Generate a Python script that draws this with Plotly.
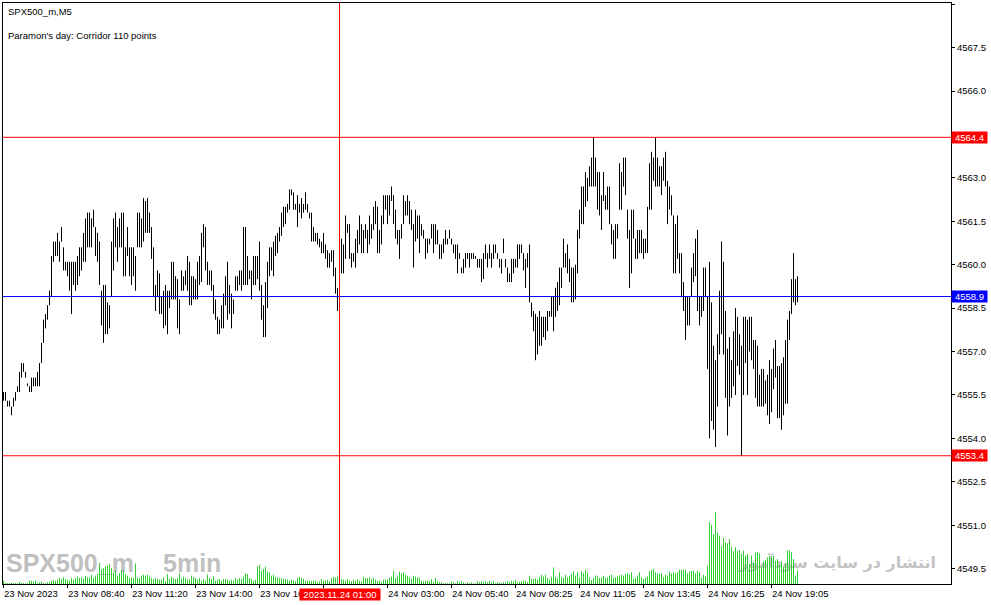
import plotly.graph_objects as go

# ---------------- data ----------------
highs = [
4555.6,4555.6,4555.3,4555.3,4555.1,4555.4,4555.6,4555.8,4556.3,4556.6,
4556.6,4556.3,4555.9,4555.8,4556.1,4556.1,4556.1,4556.3,4556.6,4557.3,
4558.1,4558.3,4558.6,4559.1,4560.3,4560.8,4560.8,4561.1,4560.8,4561.3,
4560.6,4560.1,4560.1,4560.1,4560.1,4560.1,4560.1,4560.3,4560.6,4560.6,
4561.1,4561.6,4561.8,4561.8,4561.6,4561.9,4561.3,4561.1,4560.8,4559.1,
4559.3,4559.3,4558.7,4558.6,4560.8,4561.6,4561.8,4561.3,4561.6,4561.8,
4561.8,4560.6,4561.3,4560.6,4560.6,4560.6,4560.3,4561.8,4561.8,4561.6,
4562.3,4562.2,4562.3,4561.8,4561.3,4560.6,4559.3,4559.8,4559.7,4558.9,
4559.1,4559.3,4559.1,4559.1,4560.1,4560.1,4559.6,4559.5,4558.8,4559.8,
4559.6,4559.8,4560.3,4560.1,4559.6,4559.6,4559.5,4560.1,4560.3,4561.1,
4561.4,4561.3,4560.1,4559.8,4559.8,4559.3,4558.8,4558.2,4558.1,4558.6,
4559.0,4559.6,4560.1,4559.3,4559.0,4558.8,4559.6,4559.6,4559.8,4559.8,
4561.3,4561.3,4560.3,4559.8,4559.8,4560.3,4560.3,4560.3,4560.8,4559.3,
4558.6,4559.4,4560.1,4560.6,4560.6,4560.8,4561.0,4561.1,4561.3,4561.8,
4562.0,4562.0,4562.1,4562.6,4562.6,4562.5,4562.1,4562.4,4562.1,4562.3,
4562.1,4562.5,4562.1,4561.8,4561.8,4561.3,4561.1,4561.1,4560.9,4560.8,
4561.1,4560.7,4560.5,4560.4,4560.5,4560.5,4559.9,4559.2,4561.4,4560.9,
4560.7,4561.7,4561.4,4561.4,4560.4,4560.4,4560.9,4561.2,4561.7,4561.4,
4561.2,4561.4,4561.2,4561.7,4561.4,4562.0,4562.2,4562.0,4561.2,4561.7,
4562.4,4562.4,4562.4,4562.4,4562.7,4562.4,4561.9,4561.2,4561.2,4561.4,
4562.4,4562.2,4562.4,4562.2,4561.9,4561.4,4561.9,4561.7,4561.7,4561.4,
4561.2,4560.9,4560.9,4560.9,4561.4,4561.4,4561.4,4561.2,4560.7,4560.7,
4560.9,4561.2,4560.9,4561.2,4560.9,4560.7,4560.7,4560.7,4560.4,4559.9,
4560.2,4560.4,4560.4,4560.4,4560.4,4560.4,4560.3,4560.2,4560.2,4560.2,
4560.4,4560.7,4560.4,4560.7,4560.4,4560.7,4560.7,4560.4,4560.2,4560.2,
4560.9,4560.2,4559.9,4559.7,4560.2,4560.2,4560.2,4560.7,4560.7,4560.7,
4560.4,4560.2,4560.4,4560.7,4558.7,4558.4,4558.3,4558.2,4558.4,4558.2,
4558.2,4558.2,4558.4,4558.4,4558.9,4558.9,4559.2,4559.4,4559.9,4559.9,
4560.9,4560.4,4560.7,4560.2,4559.9,4559.9,4560.0,4561.2,4561.9,4562.7,
4562.7,4563.2,4563.0,4563.4,4563.7,4564.4,4563.7,4563.2,4563.2,4562.4,
4563.2,4562.4,4562.7,4562.7,4561.4,4561.2,4561.4,4561.4,4563.5,4563.2,
4563.7,4563.7,4561.9,4561.2,4561.9,4561.9,4560.9,4561.2,4561.2,4561.2,
4560.9,4560.9,4562.0,4563.5,4563.9,4563.7,4564.4,4563.7,4563.4,4563.4,
4563.7,4563.9,4562.9,4562.7,4562.4,4561.7,4561.4,4561.7,4560.4,4560.4,
4559.4,4558.9,4558.9,4558.9,4559.9,4560.4,4560.9,4561.2,4558.9,4558.9,
4559.9,4559.9,4558.9,4560.1,4558.7,4557.2,4556.7,4557.6,4559.1,4560.8,
4560.1,4558.4,4557.1,4557.5,4556.7,4557.7,4558.5,4558.2,4557.6,4557.2,
4558.2,4558.2,4558.1,4558.2,4558.2,4557.4,4557.4,4557.2,4556.2,4556.4,
4556.4,4556.0,4556.2,4556.7,4556.4,4557.1,4557.4,4556.5,4556.5,4556.6,
4556.8,4557.4,4558.1,4558.4,4559.5,4560.4,4559.5,4559.6,
]

lows = [
4555.3,4555.3,4555.1,4555.1,4554.8,4555.1,4555.3,4555.6,4555.6,4556.1,
4556.3,4556.1,4555.8,4555.6,4555.6,4555.8,4555.8,4555.8,4555.8,4556.6,
4557.3,4557.8,4558.1,4558.6,4558.9,4560.1,4560.3,4560.3,4560.1,4560.8,
4559.8,4559.8,4559.6,4559.1,4558.3,4559.3,4559.1,4559.3,4559.6,4559.8,
4560.1,4560.1,4560.6,4560.6,4560.6,4561.3,4560.3,4560.1,4559.3,4557.9,
4557.3,4557.6,4557.6,4557.8,4558.9,4559.8,4560.6,4560.1,4560.6,4560.6,
4559.6,4559.6,4560.3,4559.6,4559.3,4559.6,4559.1,4560.6,4560.6,4560.6,
4560.8,4561.1,4561.1,4561.1,4560.2,4558.9,4558.4,4558.9,4558.3,4558.3,
4557.8,4557.9,4557.6,4558.5,4558.8,4558.8,4558.8,4557.8,4557.6,4559.1,
4559.1,4559.3,4559.1,4558.6,4558.6,4558.8,4558.8,4558.8,4559.3,4559.4,
4560.6,4559.8,4559.3,4559.3,4559.1,4558.3,4558.1,4557.6,4557.6,4557.8,
4557.8,4558.6,4558.1,4558.3,4557.8,4558.3,4559.1,4559.1,4559.3,4559.1,
4559.3,4559.3,4559.3,4559.5,4558.8,4559.3,4559.3,4559.5,4559.1,4558.1,
4557.5,4557.5,4558.5,4559.6,4559.8,4559.6,4560.3,4560.4,4560.8,4561.0,
4561.3,4561.4,4561.8,4561.9,4562.4,4561.9,4561.9,4561.3,4561.8,4561.6,
4561.8,4561.9,4561.8,4561.6,4560.8,4560.8,4560.8,4560.7,4560.6,4560.4,
4560.4,4560.2,4559.9,4559.9,4560.1,4559.6,4559.0,4558.4,4559.7,4559.7,
4559.7,4560.2,4561.1,4560.2,4559.9,4560.1,4559.9,4560.4,4560.7,4560.4,
4560.4,4560.9,4560.4,4560.7,4560.9,4561.2,4561.4,4560.4,4560.4,4560.7,
4561.4,4561.9,4561.4,4561.7,4562.2,4561.4,4560.9,4560.7,4560.2,4560.9,
4561.4,4561.7,4561.7,4561.4,4561.2,4559.9,4560.8,4560.9,4560.4,4561.0,
4560.9,4560.2,4560.4,4560.7,4560.9,4560.4,4560.7,4560.7,4560.2,4560.2,
4560.4,4560.7,4560.7,4560.9,4560.7,4560.4,4560.2,4559.7,4560.2,4559.7,
4559.7,4559.9,4560.2,4559.9,4560.2,4560.2,4560.2,4559.9,4559.9,4559.4,
4559.5,4560.2,4559.9,4560.2,4559.9,4560.2,4560.4,4560.2,4559.9,4559.7,
4560.4,4559.9,4559.4,4559.4,4559.4,4559.7,4559.9,4559.9,4560.2,4560.4,
4559.8,4559.2,4559.9,4558.7,4558.2,4557.7,4556.7,4556.9,4557.2,4557.2,
4557.5,4557.4,4557.7,4558.2,4558.2,4557.7,4558.2,4558.4,4558.6,4559.2,
4559.9,4559.9,4559.7,4559.4,4558.7,4558.7,4558.8,4559.7,4560.9,4561.4,
4561.4,4562.0,4562.2,4562.7,4562.7,4562.7,4562.7,4561.9,4561.7,4561.2,
4562.2,4561.9,4561.9,4561.4,4560.7,4560.2,4560.2,4560.9,4561.9,4561.9,
4562.7,4562.4,4560.9,4559.2,4559.7,4560.9,4560.2,4560.2,4560.4,4560.4,
4560.2,4560.4,4560.4,4561.9,4561.9,4562.9,4562.7,4562.7,4562.7,4562.4,
4562.9,4562.7,4561.4,4561.9,4561.7,4559.7,4559.7,4560.2,4559.7,4558.9,
4558.4,4557.4,4557.9,4557.9,4558.9,4559.4,4559.6,4558.4,4557.9,4558.2,
4558.4,4558.9,4556.4,4554.0,4554.6,4554.3,4553.7,4555.1,4556.9,4557.6,
4556.9,4555.4,4554.1,4555.1,4555.4,4555.8,4555.5,4556.5,4556.2,4553.4,
4555.5,4556.6,4555.5,4557.0,4556.7,4556.4,4555.4,4555.1,4555.1,4555.1,
4555.1,4555.2,4554.8,4554.5,4554.9,4555.7,4556.1,4554.7,4554.7,4554.3,
4554.8,4555.2,4555.2,4557.4,4558.3,4558.7,4558.6,4558.7,
]

volumes = [
33,10,10,10,10,7,10,7,23,10,
10,7,10,33,33,27,33,10,17,27,
10,7,17,17,33,43,33,43,60,50,
67,50,43,33,60,43,60,77,60,67,
50,83,67,67,93,60,83,100,210,150,
160,177,183,200,157,117,133,83,110,143,
133,100,83,60,67,60,207,60,60,83,
93,83,93,73,60,50,60,50,43,43,
67,27,100,50,73,60,50,60,107,50,
73,60,43,43,83,67,60,43,60,33,
50,33,93,60,50,77,33,43,50,33,
50,50,43,33,43,33,60,43,60,50,
73,107,100,60,50,33,43,177,193,133,
150,173,127,117,83,93,73,67,60,60,
50,50,43,33,43,33,27,60,73,60,
50,33,33,33,33,33,33,17,27,50,
33,33,40,27,60,73,67,77,33,50,
43,33,50,33,27,43,33,50,33,27,
73,60,60,67,50,60,43,33,33,17,
43,43,43,60,73,133,60,83,123,107,
117,93,83,67,50,83,73,67,60,33,
27,33,33,27,50,17,60,27,17,17,
7,7,7,7,27,17,7,33,17,27,
17,7,17,7,17,7,7,27,17,27,
17,27,17,33,17,27,7,17,17,7,
17,17,27,17,33,27,40,17,23,27,
33,33,17,83,50,50,57,43,67,93,
77,93,60,43,73,167,73,60,117,67,
60,93,67,83,100,127,83,117,67,127,
107,143,117,67,40,60,83,83,60,67,
83,60,67,83,93,60,67,73,83,93,
83,100,107,93,117,50,60,83,117,67,
50,67,77,127,140,150,117,107,100,107,
67,93,83,127,107,117,107,117,143,143,
143,143,107,123,133,133,107,133,117,60,
93,73,183,617,593,500,717,517,483,383,
460,417,407,450,373,327,367,333,340,300,
333,283,300,200,283,217,317,317,307,173,
227,240,267,283,260,283,233,250,193,227,
173,207,333,340,317,250,83,133,
]

time_tick_pos = [0, 32, 64, 96, 128, 160, 192, 224, 256, 288, 320, 352, 384]
time_tick_labels = ["23 Nov 2023", "23 Nov 08:40", "23 Nov 11:20", "23 Nov 14:00",
                    "23 Nov 16:40", "", "24 Nov 03:00", "24 Nov 05:40", "24 Nov 08:25",
                    "24 Nov 11:05", "24 Nov 13:45", "24 Nov 16:25", "24 Nov 19:05"]

day_high = 4564.4
day_low = 4553.4
last_price = 4558.9
cursor_bar = 168
cursor_label = "2023.11.24 01:00"

symbol_text = "SPX500_m,M5"
info_text = "Paramon's day: Corridor 110 points"
wm_symbol = "SPX500_m"
wm_tf = "5min"
wm_fa = "انتشار در سایت سودآموز"

# ---------------- layout geometry ----------------
W, H = 991, 605
ML, MR, MT, MB = 3, 40, 3, 21
PW, PH = W - ML - MR, H - MT - MB
price_range = [4548.97, 4569.04]
x_range = [-0.25, 473.75]
vol_range = [0, 5810]

def px_x(px):
    return (px - ML) / PW

def px_y(py):
    return 1 - (py - MT) / PH

def px_to_xdata(px):
    return x_range[0] + (px - ML) / PW * (x_range[1] - x_range[0])

def px_to_ydata(py):
    return price_range[1] - (py - MT) / PH * (price_range[1] - price_range[0])

FONT = "Liberation Sans, Arial, sans-serif"
FS = 9.5
VOL_GREEN = "#32cd32"

# ---------------- traces ----------------
fig = go.Figure()

# background watermarks (drawn under the bars)
WM_FONT = "Liberation Sans, Arial, sans-serif"
fig.add_trace(go.Scatter(
    x=[px_to_xdata(6), px_to_xdata(163)], y=[px_to_ydata(566)] * 2,
    text=["<b>" + wm_symbol + "</b>", "<b>" + wm_tf + "</b>"], mode="text",
    textposition="middle right", textfont=dict(family=WM_FONT, size=25, color="#c0c0c0"),
    hoverinfo="skip", showlegend=False, cliponaxis=False))
fig.add_trace(go.Scatter(
    x=[px_to_xdata(936)], y=[px_to_ydata(564)], text=["<b>" + wm_fa + "</b>"], mode="text",
    textposition="middle left", textfont=dict(family="DejaVu Sans, sans-serif", size=16, color="#c4c4c4"),
    hoverinfo="skip", showlegend=False, cliponaxis=False))

# volume bars as 1px vertical segments
vx, vy = [], []
for i, v in enumerate(volumes):
    vx += [i, i, None]
    vy += [0, v, None]
fig.add_trace(go.Scatter(x=vx, y=vy, yaxis="y2", mode="lines",
                         line=dict(color=VOL_GREEN, width=1), hoverinfo="skip", showlegend=False))

# price bars (high-low) as 1px vertical segments
bx, by = [], []
for i, (h, l) in enumerate(zip(highs, lows)):
    bx += [i, i, None]
    by += [l, h, None]
fig.add_trace(go.Scatter(x=bx, y=by, mode="lines",
                         line=dict(color="#000000", width=1), hoverinfo="skip", showlegend=False))

shapes = [
    dict(type="line", xref="paper", x0=0, x1=1, yref="y", y0=day_high, y1=day_high,
         line=dict(color="#ff0000", width=1)),
    dict(type="line", xref="paper", x0=0, x1=1, yref="y", y0=day_low, y1=day_low,
         line=dict(color="#ff0000", width=1)),
    dict(type="line", xref="paper", x0=0, x1=1, yref="y", y0=last_price, y1=last_price,
         line=dict(color="#0000ff", width=1)),
    dict(type="line", xref="x", x0=cursor_bar, x1=cursor_bar, yref="paper", y0=0, y1=1,
         line=dict(color="#ff0000", width=1)),
]

ann = []
ann.append(dict(text=symbol_text, xref="paper", yref="paper", x=px_x(6), y=px_y(11),
                xanchor="left", yanchor="middle", showarrow=False,
                font=dict(family=FONT, size=FS, color="black")))
ann.append(dict(text=info_text, xref="paper", yref="paper", x=px_x(6), y=px_y(35.5),
                xanchor="left", yanchor="middle", showarrow=False,
                font=dict(family=FONT, size=FS, color="black")))
# time axis labels
for p, lab in zip(time_tick_pos, time_tick_labels):
    if lab:
        ann.append(dict(text=lab, xref="x", yref="paper", x=p, y=0, xanchor="left", yanchor="top",
                        xshift=-2, yshift=-2, showarrow=False,
                        font=dict(family=FONT, size=FS, color="black")))
# price level boxes
for val, col in [(day_high, "#ff0000"), (last_price, "#0000ff"), (day_low, "#ff0000")]:
    ann.append(dict(text=f"{val:.1f}", xref="paper", yref="y", x=1, y=val, xanchor="left",
                    yanchor="middle", showarrow=False, bgcolor=col, borderpad=0, width=35, height=11,
                    font=dict(family=FONT, size=FS, color="white")))
# cursor time box
ann.append(dict(text=cursor_label, xref="x", yref="paper", x=cursor_bar, y=0, xanchor="center",
                yanchor="top", yshift=-4, showarrow=False, bgcolor="#ff0000", borderpad=0,
                width=80, height=11, font=dict(family=FONT, size=FS, color="white")))

fig.update_layout(
    width=W, height=H, margin=dict(l=ML, r=MR, t=MT, b=MB, pad=0),
    paper_bgcolor="white", plot_bgcolor="white", showlegend=False,
    xaxis=dict(range=x_range, showgrid=False, zeroline=False, showline=True, linecolor="black",
               linewidth=1, mirror=True, ticks="outside", ticklen=3, tickcolor="black",
               tickvals=time_tick_pos, showticklabels=False, fixedrange=True),
    yaxis=dict(range=price_range, side="right", showgrid=False, zeroline=False, showline=True,
               linecolor="black", linewidth=1, mirror=True, ticks="outside", ticklen=3,
               tickcolor="black", tick0=4549.5, dtick=1.5, tickformat=".1f",
               tickfont=dict(family=FONT, size=FS, color="black"), fixedrange=True),
    yaxis2=dict(range=vol_range, overlaying="y", visible=False, fixedrange=True),
    shapes=shapes, annotations=ann,
)

fig.write_html("out.html", config={"displayModeBar": False},
               post_script="document.body.style.margin='0';document.body.style.padding='0';")
